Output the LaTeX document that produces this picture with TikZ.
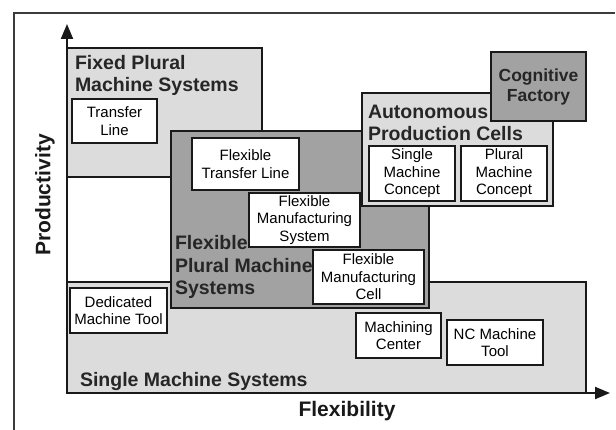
\documentclass[tikz,border=0pt]{standalone}
\usepackage{fontspec}
\setmainfont{Liberation Sans}
\usetikzlibrary{arrows.meta}
\definecolor{lightbox}{RGB}{220,220,221}
\definecolor{darkbox}{RGB}{162,162,162}
\definecolor{frameline}{RGB}{60,60,60}
\begin{document}
\begin{tikzpicture}[x=1pt,y=-1pt,
  bigbox/.style={draw=black!90,line width=2pt,inner sep=0pt,outer sep=0pt},
  smallbox/.style={draw=black!90,fill=white,line width=1.4pt,inner sep=0pt,outer sep=0pt,align=center,
    font=\fontsize{15}{17.5}\selectfont},
  grouplabel/.style={inner sep=0pt,outer sep=0pt,align=left,font=\bfseries\fontsize{19.5}{22}\selectfont,text=black!85},
  axislabel/.style={inner sep=0pt,font=\bfseries\fontsize{21}{24}\selectfont,text=black!90},
  axisline/.style={line width=2pt,black!90,-{Triangle[length=15pt,width=12pt]}}
]
\useasboundingbox (0,0) rectangle (616,430);
% frame
\coordinate (fbl) at (14,430);
\coordinate (ftl) at (14,13);
\coordinate (ftr) at (615,13);
\draw[frameline,line width=1.3pt] (fbl) -- (ftl) -- (ftr);

% large group boxes and their labels
\node[bigbox,fill=lightbox,minimum width=195,minimum height=129] (fixed) at (164.5,112.5) {};
\node[grouplabel,anchor=base west] (fixedlbl) at (75,92) {Fixed Plural\\Machine Systems};
\node[bigbox,fill=lightbox,minimum width=519,minimum height=111] (single) at (326.5,337.5) {};
\node[grouplabel,anchor=base west] (singlelbl) at (80,387) {Single Machine Systems};
\node[bigbox,fill=darkbox,minimum width=258,minimum height=177] (flex) at (300,219.5) {};
\node[grouplabel,anchor=base west,font=\bfseries\fontsize{19.5}{22.5}\selectfont] (flexlbl) at (175,295) {Flexible\\Plural Machine\\Systems};
\node[bigbox,fill=lightbox,minimum width=191,minimum height=113] (auto) at (457.5,149.5) {};
\node[grouplabel,anchor=base west] (autolbl) at (368,141) {Autonomous\\Production Cells};
\node[bigbox,fill=darkbox,minimum width=95,minimum height=69,align=center,
  font=\bfseries\fontsize{17.5}{20}\selectfont,text=black!85] (cog) at (538.5,86.5) {Cognitive\\Factory};

% inner boxes
\node[smallbox,minimum width=85,minimum height=44] (transfer) at (114.5,121) {Transfer\\Line};
\node[smallbox,minimum width=107,minimum height=52] (ftl) at (245.5,164) {Flexible\\Transfer Line};
\node[smallbox,minimum width=111,minimum height=54] (fms) at (304.5,220) {Flexible\\Manufacturing\\System};
\node[smallbox,minimum width=111,minimum height=54] (fmc) at (368.5,277) {Flexible\\Manufacturing\\Cell};
\node[smallbox,minimum width=97,minimum height=45] (dmt) at (118.5,310.5) {Dedicated\\Machine Tool};
\node[smallbox,minimum width=85,minimum height=45] (mc) at (398.5,335.5) {Machining\\Center};
\node[smallbox,minimum width=96,minimum height=45] (nc) at (495,342.5) {NC Machine\\Tool};
\node[smallbox,minimum width=86,minimum height=55] (smc) at (412,173.5) {Single\\Machine\\Concept};
\node[smallbox,minimum width=86,minimum height=55] (pmc) at (504,173.5) {Plural\\Machine\\Concept};

% axes
\coordinate (origin) at (67,393);
\coordinate (ytip) at (67,24);
\coordinate (xtip) at (610,393);
\draw[axisline] (origin) -- (ytip);
\draw[axisline] (origin) -- (xtip);
\node[axislabel,rotate=90] (prod) at (45,195) {Productivity};
\node[axislabel,anchor=base] (flexy) at (347,417) {Flexibility};
\end{tikzpicture}
\end{document}
